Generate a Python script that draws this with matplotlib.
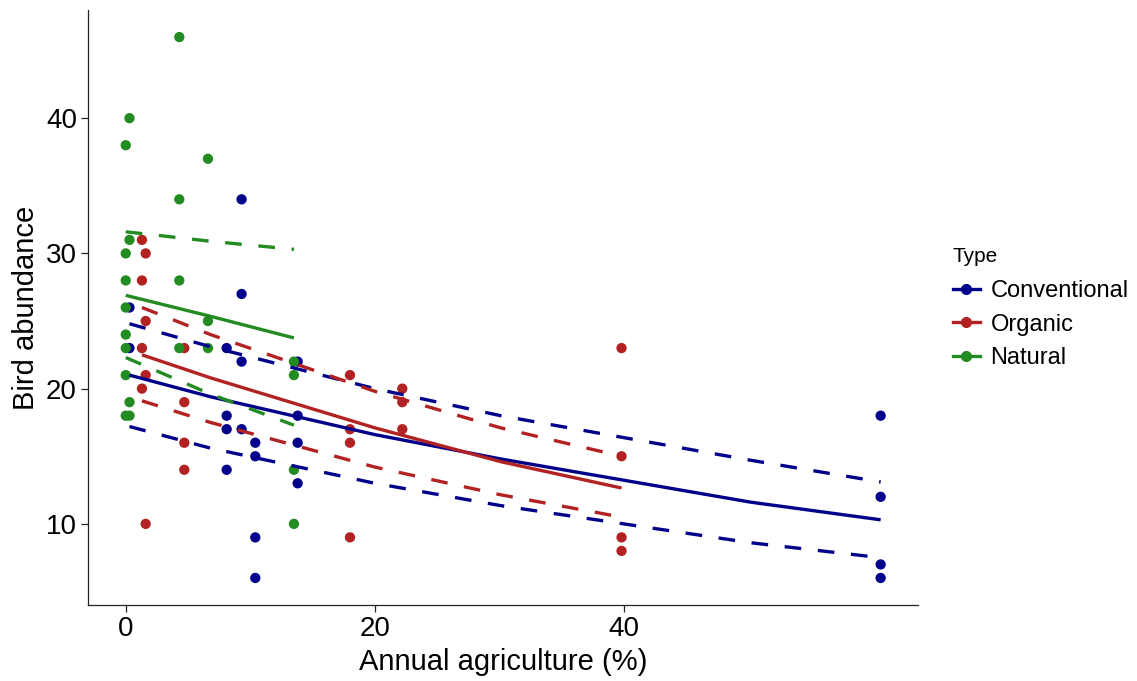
import matplotlib.pyplot as plt
from matplotlib.lines import Line2D

plt.rcParams['font.family'] = ['Liberation Sans', 'DejaVu Sans']

# observed bird counts per site, grouped by farm type
conv_x = [0.3, 0.3,
          8.1, 8.1, 8.1, 8.1,
          9.3, 9.3, 9.3, 9.3,
          10.4, 10.4, 10.4, 10.4,
          13.8, 13.8, 13.8, 13.8,
          60.6, 60.6, 60.6, 60.6]
conv_y = [26, 23,
          23, 18, 17, 14,
          34, 27, 22, 17,
          16, 15, 9, 6,
          22, 18, 16, 13,
          18, 12, 7, 6]

org_x = [1.3, 1.3, 1.3, 1.3,
         1.6, 1.6, 1.6, 1.6,
         4.7, 4.7, 4.7, 4.7,
         18.0, 18.0, 18.0, 18.0,
         22.2, 22.2, 22.2,
         39.8, 39.8, 39.8, 39.8]
org_y = [31, 28, 23, 20,
         30, 25, 21, 10,
         23, 19, 16, 14,
         21, 17, 16, 9,
         20, 19, 17,
         23, 15, 9, 8]

nat_x = [0, 0, 0, 0, 0, 0, 0, 0,
         0.3, 0.3, 0.3, 0.3,
         4.3, 4.3, 4.3, 4.3,
         6.6, 6.6, 6.6,
         13.5, 13.5, 13.5, 13.5]
nat_y = [38, 30, 28, 26, 24, 23, 21, 18,
         40, 31, 19, 18,
         46, 34, 28, 23,
         37, 25, 23,
         22, 21, 14, 10]

# model predictions with confidence limits
conv_fx = [0.3, 6.8, 20.0, 30.1, 50.2, 60.6]
conv_fit = [21.0, 19.4, 16.6, 14.8, 11.6, 10.3]
conv_lo = [17.2, 15.6, 13.0, 11.35, 8.6, 7.5]
conv_hi = [24.8, 23.1, 20.0, 18.0, 14.7, 13.1]

org_fx = [1.3, 6.8, 20.0, 30.1, 39.8]
org_fit = [22.5, 20.8, 17.1, 14.6, 12.65]
org_lo = [19.1, 17.5, 14.2, 12.15, 10.5]
org_hi = [26.0, 24.0, 19.8, 17.1, 15.0]

nat_fx = [0, 6.8, 13.5]
nat_fit = [26.9, 25.35, 23.75]
nat_lo = [22.3, 19.6, 17.3]
nat_hi = [31.6, 30.9, 30.3]

types = ['Conventional', 'Organic', 'Natural']
colors = ['#00008B', '#B22222', '#228B22']

fig = plt.figure(figsize=(11.37, 6.81), dpi=100)
ax = fig.add_axes([0.0774, 0.1116, 0.73, 0.8737])

groups = [
    (conv_x, conv_y, conv_fx, conv_fit, conv_lo, conv_hi),
    (org_x, org_y, org_fx, org_fit, org_lo, org_hi),
    (nat_x, nat_y, nat_fx, nat_fit, nat_lo, nat_hi),
]

for (px, py, fx, fit, lo, hi), c in zip(groups, colors):
    ax.scatter(px, py, s=55, color=c, edgecolors='none', zorder=2)

for (px, py, fx, fit, lo, hi), c in zip(groups, colors):
    ax.plot(fx, fit, color=c, lw=2.4, solid_capstyle='butt', zorder=3)
    for band in (lo, hi):
        ax.plot(fx, band, color=c, lw=2.4, dashes=(5, 5),
                dash_capstyle='butt', zorder=3)

ax.set_xlim(-3.03, 63.6)
ax.set_ylim(4, 48)
ax.set_xticks([0, 20, 40])
ax.set_yticks([10, 20, 30, 40])

for side in ('top', 'right'):
    ax.spines[side].set_visible(False)
for side in ('left', 'bottom'):
    ax.spines[side].set_color('#222222')
    ax.spines[side].set_linewidth(0.9)

ax.tick_params(axis='both', length=5, width=0.9, color='#222222',
               labelsize=20, labelcolor='black', pad=3)
ax.set_xlabel('Annual agriculture (%)', fontsize=21, labelpad=4)
ax.set_ylabel('Bird abundance', fontsize=21, labelpad=4)

handles = [Line2D([0], [0], color=c, lw=2.4, marker='o', markersize=7)
           for c in colors]
leg = fig.legend(handles, types, title='Type', loc='upper left',
                 bbox_to_anchor=(0.838, 0.638), frameon=False,
                 fontsize=17, title_fontsize=15, handlelength=1.15,
                 handletextpad=0.45, labelspacing=0.49, alignment='left',
                 borderpad=0, borderaxespad=0)
# a little more room between the title and the first entry
leg._legend_box.sep = 10.5

fig.savefig('out.png', dpi=100)
